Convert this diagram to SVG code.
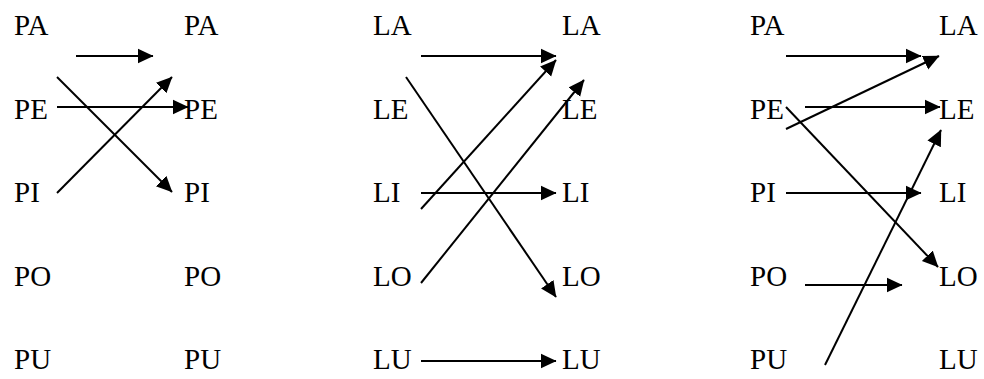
<svg xmlns="http://www.w3.org/2000/svg" width="984" height="379" viewBox="0 0 984 379">
<defs>
<marker id="ah" markerUnits="userSpaceOnUse" markerWidth="17" markerHeight="17" refX="15.5" refY="8" orient="auto" viewBox="0 0 17 17">
<path d="M0,0.5 L16,8 L0,15.5 z" fill="#000"/>
</marker>
</defs>
<rect width="984" height="379" fill="#fff"/>
<g id="p1-left" font-family="Liberation Serif" font-size="29" fill="#000">
<text x="14" y="35">PA</text><text x="14" y="119">PE</text><text x="14" y="202">PI</text><text x="14" y="286">PO</text><text x="14" y="369">PU</text>
</g>
<g id="p1-right" font-family="Liberation Serif" font-size="29" fill="#000">
<text x="184" y="35">PA</text><text x="184" y="119">PE</text><text x="184" y="202">PI</text><text x="184" y="286">PO</text><text x="184" y="369">PU</text>
</g>
<g id="p2-left" font-family="Liberation Serif" font-size="29" fill="#000">
<text x="373" y="35">LA</text><text x="373" y="119">LE</text><text x="373" y="202">LI</text><text x="373" y="286">LO</text><text x="373" y="369">LU</text>
</g>
<g id="p2-right" font-family="Liberation Serif" font-size="29" fill="#000">
<text x="562" y="35">LA</text><text x="562" y="119">LE</text><text x="562" y="202">LI</text><text x="562" y="286">LO</text><text x="562" y="369">LU</text>
</g>
<g id="p3-left" font-family="Liberation Serif" font-size="29" fill="#000">
<text x="750" y="35">PA</text><text x="750" y="119">PE</text><text x="750" y="202">PI</text><text x="750" y="286">PO</text><text x="750" y="369">PU</text>
</g>
<g id="p3-right" font-family="Liberation Serif" font-size="29" fill="#000">
<text x="939" y="35">LA</text><text x="939" y="119">LE</text><text x="939" y="202">LI</text><text x="939" y="286">LO</text><text x="939" y="369">LU</text>
</g>
<g id="connectors" stroke="#000" stroke-width="2" fill="none" marker-end="url(#ah)">
<line x1="76" y1="56" x2="153" y2="56"/>
<line x1="57" y1="107" x2="188" y2="107"/>
<line x1="57" y1="77" x2="172" y2="192"/>
<line x1="57" y1="193" x2="172" y2="77"/>
<line x1="421" y1="56" x2="556" y2="56"/>
<line x1="406" y1="77" x2="556" y2="297"/>
<line x1="421" y1="209" x2="556" y2="60"/>
<line x1="421" y1="193" x2="556" y2="193"/>
<line x1="421" y1="283" x2="584" y2="80"/>
<line x1="421" y1="361" x2="556" y2="361"/>
<line x1="786" y1="56" x2="921" y2="56"/>
<line x1="786" y1="129" x2="939" y2="56"/>
<line x1="805" y1="107" x2="940" y2="107"/>
<line x1="786" y1="107" x2="938" y2="267"/>
<line x1="786" y1="193" x2="921" y2="193"/>
<line x1="805" y1="285" x2="902" y2="285"/>
<line x1="825" y1="365" x2="941" y2="130"/>
</g>
</svg>
